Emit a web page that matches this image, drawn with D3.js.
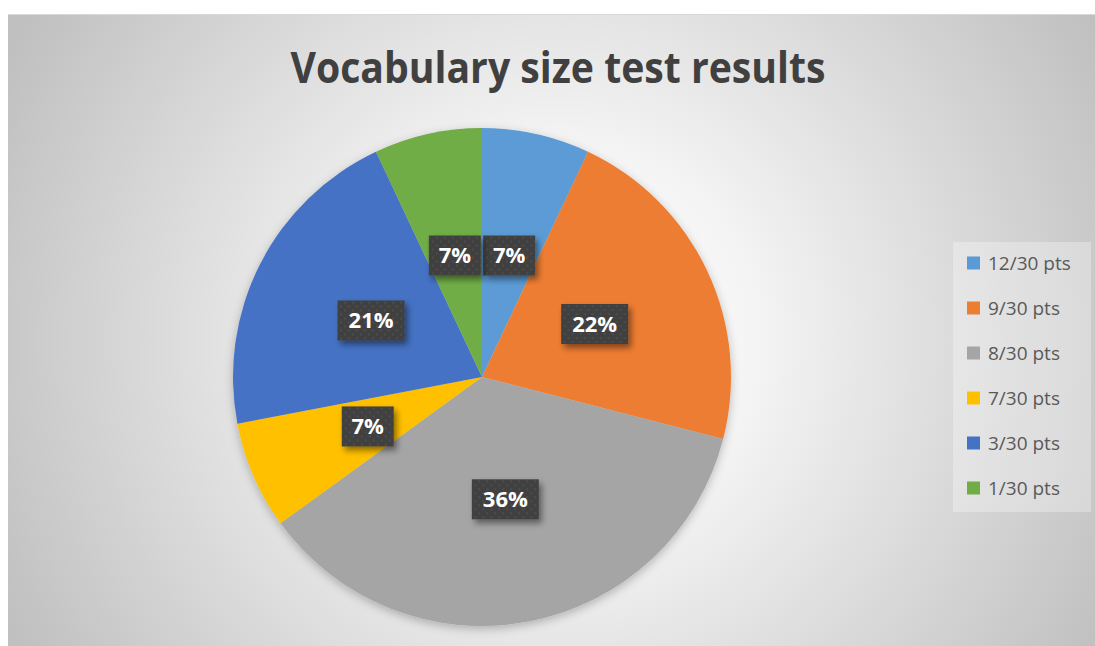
<!DOCTYPE html>
<html>
<head>
<meta charset="utf-8">
<script src="https://cdn.jsdelivr.net/npm/d3@7"></script>
<style>
  body { margin: 0; background: #fff; }
  svg { display: block; }
</style>
</head>
<body>
<div id="plot"></div>
<script>
// data (percent of students)
const categories = ["12/30 pts", "9/30 pts", "8/30 pts", "7/30 pts", "3/30 pts", "1/30 pts"];
const values = [7, 22, 36, 7, 21, 7];
const colors = ["#5B9BD5", "#ED7D31", "#A5A5A5", "#FFC000", "#4472C4", "#70AD47"];
const title = "Vocabulary size test results";

const W = 1095, H = 646;
const chart = { x: 8, y: 14, w: 1087, h: 632 };
const cx = 482, cy = 377, radius = 249;

const svg = d3.select("#plot")
  .append("svg")
  .attr("width", W)
  .attr("height", H);

const defs = svg.append("defs");

// radial background
const bg = defs.append("radialGradient")
  .attr("id", "bg")
  .attr("gradientUnits", "userSpaceOnUse")
  .attr("cx", 560).attr("cy", 340).attr("r", 620);
bg.append("stop").attr("offset", "0%").attr("stop-color", "#ffffff");
bg.append("stop").attr("offset", "30%").attr("stop-color", "#f5f5f5");
bg.append("stop").attr("offset", "100%").attr("stop-color", "#c0c0c0");

// dotted fill for the data labels
const pat = defs.append("pattern")
  .attr("id", "dots")
  .attr("patternUnits", "userSpaceOnUse")
  .attr("width", 8).attr("height", 8);
pat.append("rect").attr("width", 8).attr("height", 8).attr("fill", "#3f3f3f");
pat.append("circle").attr("cx", 2).attr("cy", 2).attr("r", 1.3).attr("fill", "#4c4c4c");
pat.append("circle").attr("cx", 6).attr("cy", 6).attr("r", 1.3).attr("fill", "#4c4c4c");

const shadow = defs.append("filter").attr("id", "shadow")
  .attr("x", "-30%").attr("y", "-30%").attr("width", "160%").attr("height", "160%");
shadow.append("feDropShadow")
  .attr("dx", 3).attr("dy", 4).attr("stdDeviation", 3)
  .attr("flood-color", "#000").attr("flood-opacity", 0.45);

const pieShadow = defs.append("filter").attr("id", "pieShadow")
  .attr("x", "-10%").attr("y", "-10%").attr("width", "120%").attr("height", "120%");
pieShadow.append("feDropShadow")
  .attr("dx", 0).attr("dy", 3).attr("stdDeviation", 5)
  .attr("flood-color", "#000").attr("flood-opacity", 0.25);

svg.append("rect")
  .attr("x", chart.x).attr("y", chart.y)
  .attr("width", chart.w).attr("height", chart.h)
  .attr("fill", "url(#bg)");
svg.append("line")
  .attr("x1", chart.x).attr("x2", chart.x + chart.w)
  .attr("y1", chart.y + 0.5).attr("y2", chart.y + 0.5)
  .attr("stroke", "#d9d9d9");

// title
svg.append("text")
  .attr("x", 558)
  .attr("y", 83)
  .attr("text-anchor", "middle")
  .attr("font-family", "'Open Sans', 'Noto Sans', sans-serif")
  .attr("font-weight", "bold")
  .attr("font-size", "43px")
  .attr("fill", "#404040")
  .attr("textLength", 535)
  .attr("lengthAdjust", "spacingAndGlyphs")
  .text(title);

// pie
const pie = d3.pie().sort(null).value(d => d);
const arcs = pie(values);
const arc = d3.arc().innerRadius(0).outerRadius(radius);

const g = svg.append("g").attr("transform", `translate(${cx},${cy})`);

g.append("g")
  .attr("filter", "url(#pieShadow)")
  .selectAll("path")
  .data(arcs)
  .enter()
  .append("path")
  .attr("d", arc)
  .attr("fill", (d, i) => colors[i]);

// data labels
const labels = g.selectAll(".lbl")
  .data(arcs)
  .enter()
  .append("g")
  .attr("class", "lbl")
  .attr("transform", d => `translate(${arc.centroid(d)})`);

labels.append("rect")
  .attr("x", d => -(String(d.data).length === 1 ? 26 : 33.5))
  .attr("y", -20)
  .attr("width", d => String(d.data).length === 1 ? 52 : 67)
  .attr("height", 40)
  .attr("fill", "url(#dots)")
  .attr("filter", "url(#shadow)");

labels.append("text")
  .attr("text-anchor", "middle")
  .attr("dy", "0.36em")
  .attr("font-family", "'Open Sans', 'Noto Sans', sans-serif")
  .attr("font-weight", "bold")
  .attr("font-size", "22px")
  .attr("fill", "#ffffff")
  .text(d => d.data + "%");

// legend
const legend = svg.append("g");
legend.append("rect")
  .attr("x", 953).attr("y", 242)
  .attr("width", 138).attr("height", 270)
  .attr("fill", "#ffffff").attr("fill-opacity", 0.3);

const item = legend.selectAll(".item")
  .data(categories)
  .enter()
  .append("g")
  .attr("class", "item")
  .attr("transform", (d, i) => `translate(967,${263 + i * 45})`);

item.append("rect")
  .attr("x", 0).attr("y", -6.5)
  .attr("width", 13).attr("height", 13)
  .attr("fill", (d, i) => colors[i]);

item.append("text")
  .attr("x", 21)
  .attr("dy", "0.35em")
  .attr("font-family", "'Open Sans', 'Noto Sans', sans-serif")
  .attr("font-size", "19px")
  .attr("fill", "#595959")
  .text(d => d);
</script>
</body>
</html>
